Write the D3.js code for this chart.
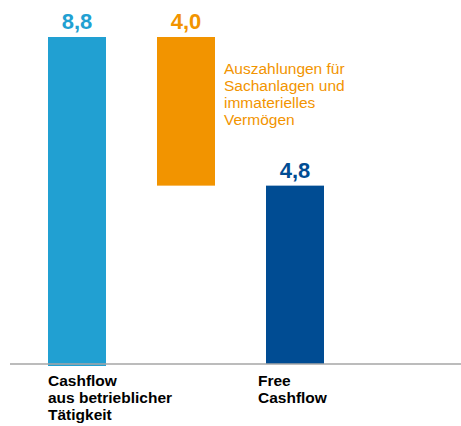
<!DOCTYPE html>
<html>
<head>
<meta charset="utf-8">
<script src="https://cdn.jsdelivr.net/npm/d3@7"></script>
<style>
  body { margin: 0; background: #fff; }
  svg { font-family: "Liberation Sans", Arial, sans-serif; }
</style>
</head>
<body>
<div id="chart"></div>
<script>
// data
var categories = ["cfo", "capex", "fcf"];
var starts = [0, 4.8, 0];
var ends = [8.8, 8.8, 4.8];
var valueLabels = ["8,8", "4,0", "4,8"];
var axisLabels = ["Cashflow|aus betrieblicher|Tätigkeit", "", "Free|Cashflow"];
var noteLines = ["Auszahlungen für", "Sachanlagen und", "immaterielles", "Vermögen"];
var colors = ["#21a0d2", "#f29400", "#004c93"];

var width = 461, height = 426;

var svg = d3.select("#chart").append("svg")
  .attr("width", width)
  .attr("height", height);

var xb = d3.scaleBand()
  .domain(categories)
  .range([48, 324])
  .paddingInner(51 / 109)
  .paddingOuter(0);

var y = d3.scaleLinear()
  .domain([0, 8.8])
  .range([364, 37]);

// bars
svg.selectAll("rect.bar")
  .data(categories)
  .enter().append("rect")
  .attr("class", "bar")
  .attr("x", function (d) { return xb(d); })
  .attr("width", xb.bandwidth())
  .attr("y", function (d, i) { return y(ends[i]); })
  .attr("height", function (d, i) { return y(starts[i]) - y(ends[i]) + (i == 0 ? 2 : 0); })
  .attr("fill", function (d, i) { return colors[i]; });

// baseline
svg.append("line")
  .attr("x1", 10).attr("x2", width)
  .attr("y1", y(0)).attr("y2", y(0))
  .attr("stroke", "#a6a6a6")
  .attr("stroke-width", 1.5);

// value labels
svg.selectAll("text.val")
  .data(categories)
  .enter().append("text")
  .attr("class", "val")
  .attr("x", function (d) { return xb(d) + xb.bandwidth() / 2; })
  .attr("y", function (d, i) { return y(ends[i]) - 8; })
  .attr("text-anchor", "middle")
  .attr("font-size", 22)
  .attr("font-weight", "bold")
  .attr("fill", function (d, i) { return colors[i]; })
  .text(function (d, i) { return valueLabels[i]; });

// note next to the orange bar
var noteX = xb(categories[1]) + xb.bandwidth() + 9;
var note = svg.append("text")
  .attr("x", noteX)
  .attr("y", 74)
  .attr("font-size", 15.5)
  .attr("fill", colors[1]);
note.selectAll("tspan")
  .data(noteLines)
  .enter().append("tspan")
  .attr("x", noteX)
  .attr("dy", function (d, i) { return i == 0 ? 0 : 17; })
  .text(function (d) { return d; });

// category labels
svg.selectAll("text.cat")
  .data(categories)
  .enter().append("text")
  .attr("class", "cat")
  .attr("y", 386)
  .attr("font-size", 15.5)
  .attr("font-weight", "bold")
  .attr("fill", "#000")
  .each(function (d, i) {
    var lines = axisLabels[i] ? axisLabels[i].split("|") : [];
    var x0 = xb(d) - (i == 2 ? 8 : 0);
    d3.select(this).selectAll("tspan")
      .data(lines)
      .enter().append("tspan")
      .attr("x", x0)
      .attr("dy", function (l, j) { return j == 0 ? 0 : 17; })
      .text(function (l) { return l; });
  });
</script>
</body>
</html>
